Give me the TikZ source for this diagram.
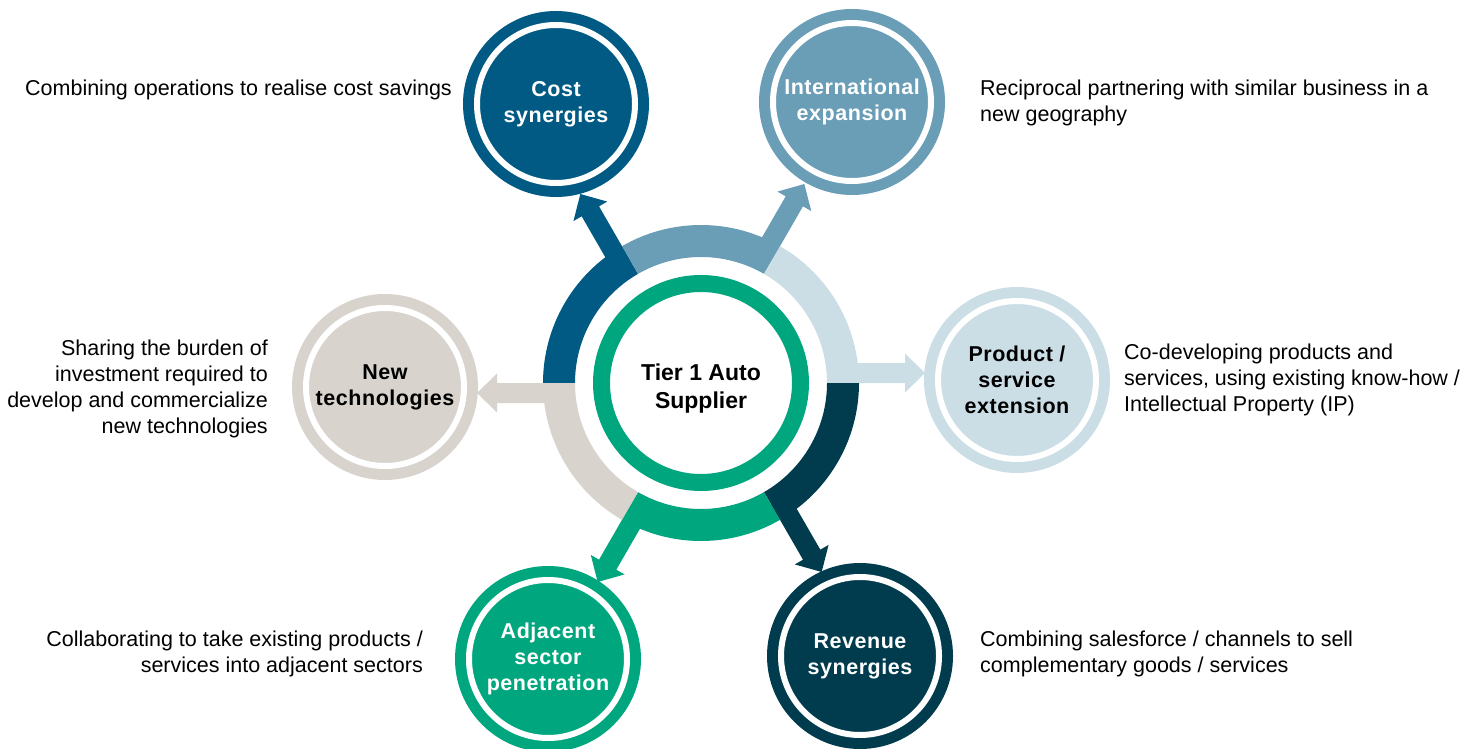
\documentclass[tikz,border=0pt]{standalone}
\usepackage{fontspec}
\setmainfont{Liberation Sans}
\usetikzlibrary{calc}

\definecolor{costblue}{HTML}{005A84}
\definecolor{intblue}{HTML}{6A9DB6}
\definecolor{prodblue}{HTML}{CBDEE6}
\definecolor{revteal}{HTML}{003C4D}
\definecolor{adjgreen}{HTML}{00A77E}
\definecolor{techbeige}{HTML}{D8D3CD}

% one ring segment (from #2 to #2+60 degrees) ending in an outward block arrow at #2
\newcommand\petal[2]{%
  \fill[#1] ($(hub)+(#2:158pt)$) arc[start angle=#2, delta angle=60, radius=158pt]
    -- ($(hub)+({#2+60}:126pt)$) arc[start angle={#2+60}, delta angle=-60, radius=126pt] -- cycle;
  \fill[#1] ($(hub)+(#2:140pt)$) -- ($(hub)+(#2:204pt)$)
    -- ($(hub)+(#2:204pt)+({#2+90}:-9.5pt)$)
    -- ($(hub)+(#2:224pt)+({#2+90}:10pt)$)
    -- ($(hub)+(#2:204pt)+({#2+90}:29.5pt)$)
    -- ($(hub)+(#2:204pt)+({#2+90}:20pt)$)
    -- ($(hub)+(#2:140pt)+({#2+90}:20pt)$) -- cycle;
}

\tikzset{
  bubble/.style={circle, minimum size=158pt, inner sep=0pt, fill=#1, draw=white,
    line width=6pt, preaction={draw=#1, line width=28pt}, align=center,
    font=\fontsize{21.5}{26}\selectfont\bfseries\addfontfeatures{LetterSpace=2.5}},
  desc/.style={inner sep=0pt, font=\fontsize{21.5}{26}\selectfont},
}

\begin{document}
\begin{tikzpicture}[x=1pt, y=1pt]
\useasboundingbox (0,0) rectangle (1479,748);

% central hub
\node[circle, minimum size=199pt, inner sep=0pt, draw=adjgreen, line width=17pt, fill=white] (hub) at (701,365) {};
\node[align=center, font=\fontsize{23}{28}\selectfont\bfseries] (hubtext) at ($(hub)+(0,-6)$) {Tier 1 Auto\\Supplier};

% segmented ring with arrows
\petal{costblue}{120}
\petal{intblue}{60}
\petal{prodblue}{0}
\petal{revteal}{-60}
\petal{adjgreen}{-120}
\petal{techbeige}{180}

% outer bubbles
\node[bubble=costblue, text=white] (cost) at (556,644) {Cost\\synergies};
\node[bubble=intblue, text=white] (intl) at (852,646) {International\\expansion};
\node[bubble=prodblue, text=black] (prod) at (1017,368) {Product /\\service\\extension};
\node[bubble=revteal, text=white] (rev) at (860,92) {Revenue\\synergies};
\node[bubble=adjgreen, text=white] (adj) at (548,89) {Adjacent\\sector\\penetration};
\node[bubble=techbeige, text=black] (tech) at (385,361) {New\\technologies};

% descriptions
\node[desc, anchor=east, align=right] (costd) at (452,658) {Combining operations to realise cost savings};
\node[desc, anchor=west, align=left] (intld) at (980,645.5) {Reciprocal partnering with similar business in a\\new geography};
\node[desc, anchor=west, align=left] (prodd) at (1124,368) {Co-developing products and\\services, using existing know-how /\\Intellectual Property (IP)};
\node[desc, anchor=west, align=left] (revd) at (980,94) {Combining salesforce / channels to sell\\complementary goods / services};
\node[desc, anchor=east, align=right] (adjd) at (423,94) {Collaborating to take existing products /\\services into adjacent sectors};
\node[desc, anchor=east, align=right] (techd) at (268,359.5) {Sharing the burden of\\investment required to\\develop and commercialize\\new technologies};
\end{tikzpicture}
\end{document}
